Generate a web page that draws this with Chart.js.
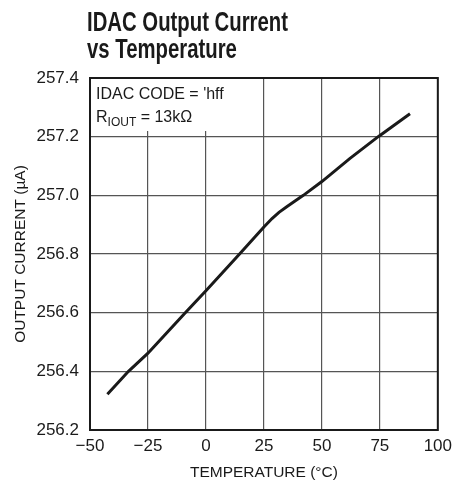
<!DOCTYPE html>
<html>
<head>
<meta charset="utf-8">
<script src="https://cdn.jsdelivr.net/npm/chart.js@4/dist/chart.umd.min.js"></script>
<style>
  html, body { margin: 0; padding: 0; background: #fff; }
  #wrap { width: 458px; height: 487px; position: relative; }
</style>
</head>
<body>
<div id="wrap"><canvas id="c" width="458" height="487"></canvas></div>
<script>
// ---- data ----
const temperatures = [-42.5, -33.4, -25, -8.9, 0, 14.5, 25, 28.5, 31.5, 35, 42, 50, 62, 74.3, 88];
const outputCurrent = [256.322, 256.40, 256.462, 256.60, 256.675, 256.80, 256.892, 256.921, 256.942, 256.962, 257.00, 257.047, 257.125, 257.20, 257.278];
const xTicks = [-50, -25, 0, 25, 50, 75, 100];
const yTicks = [256.2, 256.4, 256.6, 256.8, 257.0, 257.2, 257.4];
const titleLines = ['IDAC Output Current', 'vs Temperature'];
const noteLine1 = "IDAC CODE = 'hff";
const noteLine2 = ['R', 'IOUT', ' = 13kΩ'];
const xTitle = 'TEMPERATURE (°C)';
const yTitle = 'OUTPUT CURRENT (µA)';

const FAM = "'Liberation Sans', Arial, sans-serif";

const decor = {
  id: 'decor',
  beforeDatasetsDraw(chart) {
    const {ctx, chartArea: a} = chart;
    ctx.save();
    // white note box that hides the grid in the top-left corner
    ctx.fillStyle = '#fff';
    ctx.fillRect(a.left, a.top, 150, 53);
    ctx.fillStyle = '#1a1a1a';
    ctx.textBaseline = 'alphabetic';
    ctx.textAlign = 'left';
    ctx.font = '16px ' + FAM;
    ctx.fillText(noteLine1, a.left + 6, a.top + 21);
    let x = a.left + 6;
    ctx.fillText(noteLine2[0], x, a.top + 44);
    x += ctx.measureText(noteLine2[0]).width;
    ctx.font = '12px ' + FAM;
    ctx.fillText(noteLine2[1], x, a.top + 48);
    x += ctx.measureText(noteLine2[1]).width;
    ctx.font = '16px ' + FAM;
    ctx.fillText(noteLine2[2], x, a.top + 44);
    ctx.restore();
  },
  afterDraw(chart) {
    const {ctx, chartArea: a} = chart;
    ctx.save();
    ctx.strokeStyle = '#1a1a1a';
    ctx.lineWidth = 2;
    ctx.strokeRect(a.left, a.top, a.right - a.left, a.bottom - a.top);
    // title (condensed bold look)
    ctx.fillStyle = '#1a1a1a';
    ctx.textAlign = 'left';
    ctx.textBaseline = 'alphabetic';
    ctx.font = 'bold 27px ' + FAM;
    const w = ctx.measureText(titleLines[0]).width;
    const sx = 201 / w;
    ctx.translate(87, 0);
    ctx.scale(sx, 1);
    ctx.fillText(titleLines[0], 0, 31);
    ctx.fillText(titleLines[1], 0, 58);
    ctx.restore();
  }
};

new Chart(document.getElementById('c'), {
  type: 'line',
  data: {
    datasets: [{
      data: temperatures.map((t, i) => ({x: t, y: outputCurrent[i]})),
      borderColor: '#1a1a1a',
      borderWidth: 3,
      pointRadius: 0,
      tension: 0,
      fill: false
    }]
  },
  options: {
    responsive: false,
    animation: false,
    devicePixelRatio: 1,
    layout: { padding: { top: 78, right: 16, left: 0, bottom: 0 } },
    plugins: { legend: { display: false }, tooltip: { enabled: false }, title: { display: false } },
    scales: {
      x: {
        type: 'linear',
        min: -50, max: 100,
        afterBuildTicks(s) { s.ticks = xTicks.map(v => ({value: v})); },
        afterFit(s) { s.height = 57; },
        grid: { color: '#555', lineWidth: 1.2, drawTicks: false },
        border: { display: false },
        ticks: {
          color: '#1a1a1a', padding: 6,
          font: { family: FAM, size: 17 },
          callback: v => (v < 0 ? '\u2212' + Math.abs(v) : String(v))
        },
        title: { display: true, text: xTitle, color: '#1a1a1a', font: { family: FAM, size: 15.5 }, padding: { top: 0, bottom: 5 } }
      },
      y: {
        type: 'linear',
        min: 256.2, max: 257.4,
        afterBuildTicks(s) { s.ticks = yTicks.map(v => ({value: v})); },
        afterFit(s) { s.width = 90; },
        grid: { color: '#555', lineWidth: 1.2, drawTicks: false },
        border: { display: false },
        ticks: {
          color: '#1a1a1a', padding: 11,
          font: { family: FAM, size: 17 },
          callback: v => v.toFixed(1)
        },
        title: { display: true, text: yTitle, color: '#1a1a1a', font: { family: FAM, size: 15.5 }, padding: { top: 11, bottom: 0 } }
      }
    }
  },
  plugins: [decor]
});
</script>
</body>
</html>
